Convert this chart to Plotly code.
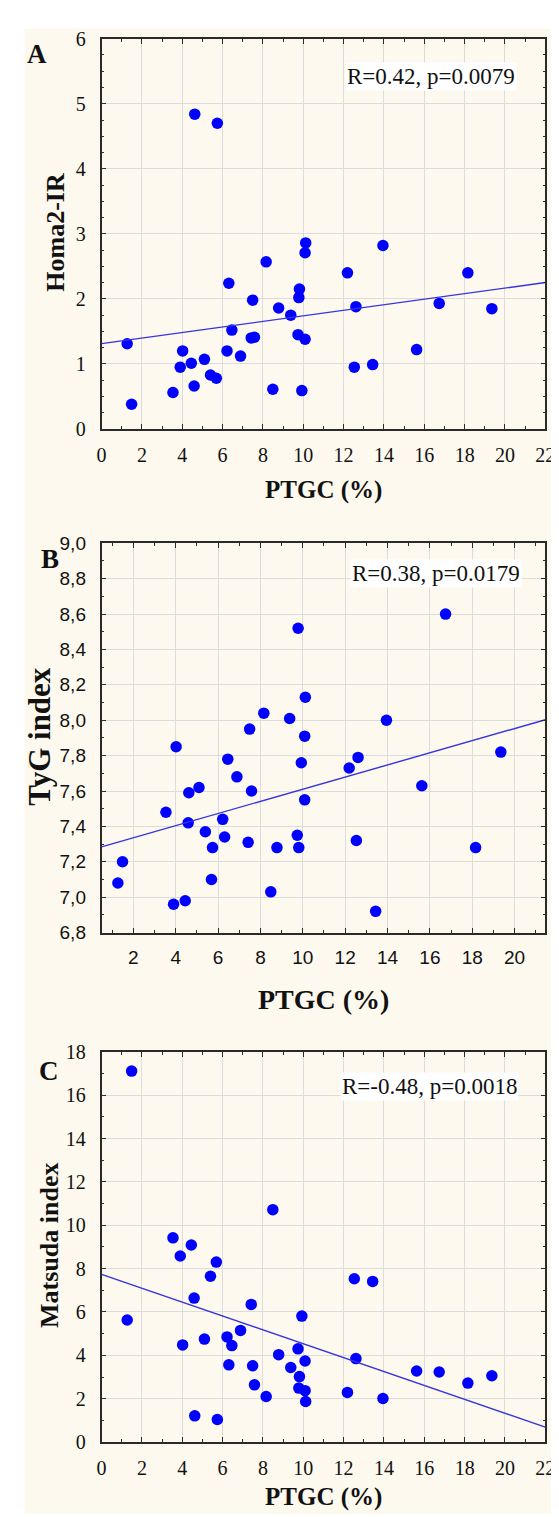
import numpy as np
import plotly.graph_objects as go

# ---------------- data ----------------
ptgc = [1.27, 1.49, 3.54, 3.90, 4.02, 4.45, 4.59, 4.62, 5.10, 5.40,
        5.69, 5.74, 6.22, 6.31, 6.46, 6.89, 7.42, 7.49, 7.58, 8.16,
        8.49, 8.78, 9.38, 9.74, 9.78, 9.81, 9.93, 10.09, 10.09, 10.12,
        12.19, 12.53, 12.61, 13.44, 13.95, 15.62, 16.74, 18.16, 19.35]

homa2_ir = [1.31, 0.38, 0.56, 0.95, 1.20, 1.01, 0.66, 4.84, 1.07, 0.83,
            0.78, 4.70, 1.20, 2.24, 1.52, 1.12, 1.40, 1.98, 1.41, 2.57,
            0.61, 1.86, 1.75, 1.45, 2.02, 2.15, 0.59, 2.71, 1.38, 2.86,
            2.40, 0.95, 1.88, 0.99, 2.82, 1.22, 1.93, 2.40, 1.85]

tyg_index = [7.08, 7.20, 7.48, 6.96, 7.85, 6.98, 7.42, 7.59, 7.62, 7.37,
             7.10, 7.28, 7.44, 7.34, 7.78, 7.68, 7.31, 7.95, 7.60, 8.04,
             7.03, 7.28, 8.01, 7.35, 8.52, 7.28, 7.76, 7.55, 7.91, 8.13,
             7.73, 7.32, 7.79, 6.92, 8.00, 7.63, 8.60, 7.28, 7.82]

matsuda_index = [5.63, 17.11, 9.42, 8.58, 4.48, 9.09, 6.64, 1.21, 4.75, 7.65,
                 8.30, 1.04, 4.85, 3.56, 4.45, 5.15, 6.35, 3.52, 2.64, 2.10,
                 10.72, 4.03, 3.44, 4.30, 2.49, 3.02, 5.81, 3.74, 2.37, 1.87,
                 2.29, 7.53, 3.85, 7.41, 2.01, 3.28, 3.23, 2.72, 3.06]

panel_letters = ["A", "B", "C"]
y_titles = ["Homa2-IR", "TyG index", "Matsuda index"]
x_title = "PTGC (%)"
stat_texts = ["R=0.42, p=0.0079", "R=0.38, p=0.0179", "R=-0.48, p=0.0018"]

x_ranges = [[0, 22], [0.5, 21.45], [0, 22]]
y_ranges = [[0, 6], [6.8, 9.0], [0, 18]]
x_ticks_a = list(range(0, 23, 2))
x_ticks_b = list(range(2, 21, 2))
y_ticks_a = [0, 1, 2, 3, 4, 5, 6]
y_ticks_b = [6.8, 7.0, 7.2, 7.4, 7.6, 7.8, 8.0, 8.2, 8.4, 8.6, 8.8, 9.0]
y_ticks_c = list(range(0, 19, 2))

# ---------------- layout helpers ----------------
W, H = 559, 1517
SERIF = "Liberation Serif"
SANS = "Liberation Sans"


def fx(px):
    return px / W


def fy(py):
    return 1 - py / H


# plot-area pixel boxes (left, right, top, bottom)
boxes = [(91, 547, 20, 416), (91, 547, 532, 927), (91, 547, 1048, 1444)]

fig = go.Figure()

series = [homa2_ir, tyg_index, matsuda_index]
x = np.array(ptgc)
for i, ys in enumerate(series):
    n = i + 1
    xa = "x" if n == 1 else f"x{n}"
    ya = "y" if n == 1 else f"y{n}"
    fig.add_trace(go.Scatter(
        x=ptgc, y=ys, mode="markers", xaxis=xa, yaxis=ya,
        marker=dict(color="#0000FF", size=11.5, line=dict(width=0)),
        showlegend=False, hoverinfo="skip"))
    slope, intercept = np.polyfit(x, np.array(ys), 1)
    xr = np.array(x_ranges[i])
    fig.add_trace(go.Scatter(
        x=xr, y=intercept + slope * xr, mode="lines", xaxis=xa, yaxis=ya,
        line=dict(color="#3535E0", width=1.4),
        showlegend=False, hoverinfo="skip"))

shapes = [dict(type="rect", xref="paper", yref="paper",
               x0=fx(12), x1=1, y0=0, y1=fy(10),
               fillcolor="#FDF9EE", line=dict(width=0), layer="below")]

layout = dict(
    width=W, height=H, margin=dict(l=0, r=0, t=0, b=0),
    paper_bgcolor="white", plot_bgcolor="white", shapes=shapes,
    showlegend=False,
)

tick_font_serif = dict(family=SERIF, size=20, color="#111111")
tick_font_sans = dict(family=SANS, size=19, color="#111111")

annotations = []
for i in range(3):
    n = i + 1
    l, r, t, b = boxes[i]
    xkey = "xaxis" if n == 1 else f"xaxis{n}"
    ykey = "yaxis" if n == 1 else f"yaxis{n}"
    anchor_x = "y" if n == 1 else f"y{n}"
    anchor_y = "x" if n == 1 else f"x{n}"
    tf = tick_font_sans if i == 1 else tick_font_serif
    if i == 1:
        xt = dict(tickmode="array", tickvals=x_ticks_b,
                  ticktext=[str(v) for v in x_ticks_b])
        yt = dict(tickmode="array", tickvals=y_ticks_b,
                  ticktext=[f"{v:.1f}".replace(".", ",") for v in y_ticks_b])
        yminor = 0.1
    elif i == 0:
        xt = dict(tickmode="array", tickvals=x_ticks_a,
                  ticktext=[str(v) for v in x_ticks_a])
        yt = dict(tickmode="array", tickvals=y_ticks_a,
                  ticktext=[str(v) for v in y_ticks_a])
        yminor = 0.25
    else:
        xt = dict(tickmode="array", tickvals=x_ticks_a,
                  ticktext=[str(v) for v in x_ticks_a])
        yt = dict(tickmode="array", tickvals=y_ticks_c,
                  ticktext=[str(v) for v in y_ticks_c])
        yminor = 1
    common = dict(showline=True, linecolor="#2a2a2a", linewidth=1.6,
                  mirror="ticks", ticks="inside", ticklen=5, tickwidth=1.3,
                  tickcolor="#2a2a2a", showgrid=True, gridcolor="#DCDCDC",
                  gridwidth=1, zeroline=False, tickfont=tf)
    layout[xkey] = dict(domain=[fx(l), fx(r)], range=x_ranges[i],
                        anchor=anchor_x, ticklabelstandoff=7,
                        minor=dict(dtick=1, tick0=0, ticks="inside",
                                   ticklen=3, tickcolor="#2a2a2a",
                                   showgrid=False),
                        **xt, **common)
    layout[ykey] = dict(domain=[fy(b), fy(t)], range=y_ranges[i],
                        anchor=anchor_y, ticklabelstandoff=10,
                        minor=dict(dtick=yminor, tick0=0, ticks="inside",
                                   ticklen=3, tickcolor="#2a2a2a",
                                   showgrid=False),
                        **yt, **common)

# panel letters
letter_pos = [(25, 36), (38, 548), (37, 1067)]
for (px, py), s in zip(letter_pos, panel_letters):
    annotations.append(dict(x=fx(px), y=fy(py), xref="paper", yref="paper",
                            text=f"<b>{s}</b>", showarrow=False,
                            font=dict(family=SERIF, size=27, color="#111111"),
                            xanchor="center", yanchor="middle"))

# statistics text (white box)
stat_pos = [(430, 58), (435, 563), (428, 1083)]
for (px, py), s in zip(stat_pos, stat_texts):
    annotations.append(dict(x=fx(px), y=fy(py), xref="paper", yref="paper",
                            text=s, showarrow=False, bgcolor="white",
                            font=dict(family=SERIF, size=23, color="#111111"),
                            xanchor="center", yanchor="middle"))

# y titles
ytitle_pos = [(44, 216, 26), (27, 728, 31), (38, 1244, 26)]
for (px, py, fs), s in zip(ytitle_pos, y_titles):
    annotations.append(dict(x=fx(px), y=fy(py), xref="paper", yref="paper",
                            text=f"<b>{s}</b>", showarrow=False, textangle=-90,
                            font=dict(family=SERIF, size=fs, color="#111111"),
                            xanchor="center", yanchor="middle"))

# x titles
xtitle_pos = [(319, 478, 25), (319, 995, 28), (319, 1500, 25)]
for (px, py, fs) in xtitle_pos:
    annotations.append(dict(x=fx(px), y=fy(py), xref="paper", yref="paper",
                            text=f"<b>{x_title}</b>", showarrow=False,
                            font=dict(family=SERIF, size=fs, color="#111111"),
                            xanchor="center", yanchor="middle"))

layout["annotations"] = annotations
fig.update_layout(**layout)
fig.write_html("out.html")
